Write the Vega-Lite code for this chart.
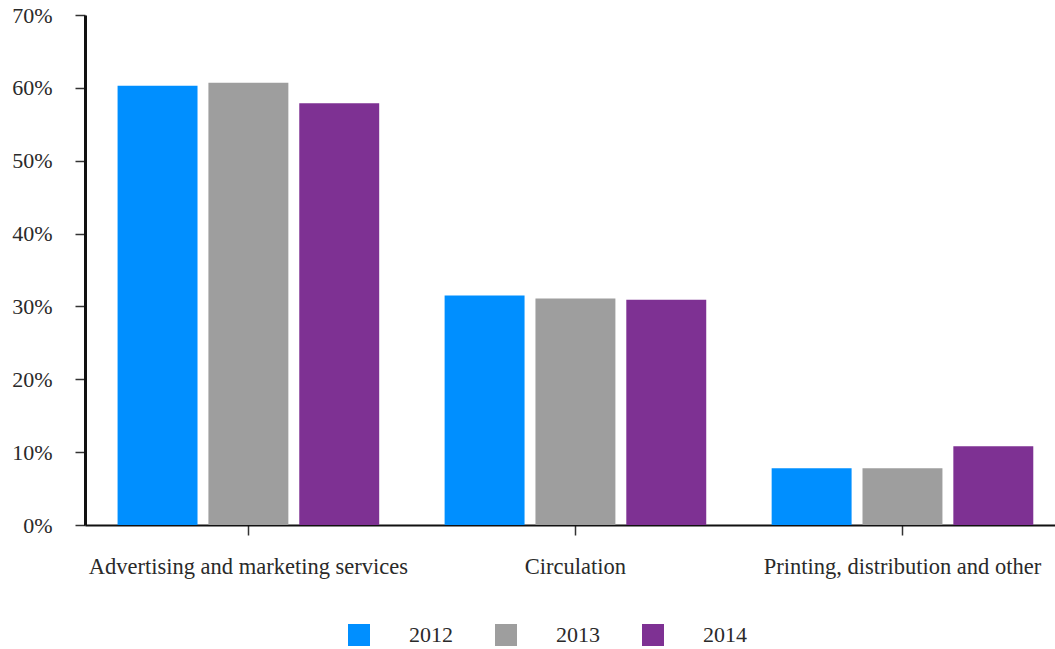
{
  "$schema": "https://vega.github.io/schema/vega-lite/v6.json",
  "width": 970,
  "height": 510,
  "autosize": {"type": "none"},
  "padding": {"left": 85, "top": 15, "right": 0, "bottom": 124},
  "background": "white",
  "data": {
    "values": [
      {"category": "Advertising and marketing services", "year": "2012", "share": 60.3},
      {"category": "Advertising and marketing services", "year": "2013", "share": 60.7},
      {"category": "Advertising and marketing services", "year": "2014", "share": 57.9},
      {"category": "Circulation", "year": "2012", "share": 31.5},
      {"category": "Circulation", "year": "2013", "share": 31.1},
      {"category": "Circulation", "year": "2014", "share": 30.9},
      {"category": "Printing, distribution and other", "year": "2012", "share": 7.8},
      {"category": "Printing, distribution and other", "year": "2013", "share": 7.8},
      {"category": "Printing, distribution and other", "year": "2014", "share": 10.8}
    ]
  },
  "mark": {"type": "bar"},
  "encoding": {
    "x": {
      "field": "category",
      "type": "nominal",
      "sort": null,
      "scale": {"paddingInner": 0.2, "paddingOuter": 0.083, "align": 0.6},
      "axis": {
        "title": null,
        "labelAngle": 0,
        "labelLimit": 0,
        "labelFont": "Liberation Serif",
        "labelFontSize": 22.5,
        "labelColor": "#2a2a2a",
        "labelPadding": 20,
        "tickSize": 10,
        "tickColor": "#333333",
        "tickWidth": 1.5,
        "domainColor": "#111111",
        "domainWidth": 2,
        "grid": false
      }
    },
    "xOffset": {
      "field": "year",
      "type": "nominal",
      "scale": {"paddingInner": 0.12, "paddingOuter": 0}
    },
    "y": {
      "field": "share",
      "type": "quantitative",
      "scale": {"domain": [0, 70], "nice": false},
      "axis": {
        "title": null,
        "values": [0, 10, 20, 30, 40, 50, 60, 70],
        "labelExpr": "datum.value + '%'",
        "labelFont": "Liberation Serif",
        "labelFontSize": 22,
        "labelColor": "#2a2a2a",
        "labelPadding": 23,
        "tickSize": 10,
        "tickColor": "#333333",
        "tickWidth": 1.5,
        "domainColor": "#111111",
        "domainWidth": 3,
        "grid": false
      }
    },
    "color": {
      "field": "year",
      "type": "nominal",
      "scale": {"domain": ["2012", "2013", "2014"], "range": ["#008FFF", "#9E9E9E", "#7E3193"]},
      "legend": {
        "title": null,
        "orient": "none",
        "direction": "horizontal",
        "legendX": 263,
        "legendY": 609,
        "padding": 0,
        "symbolType": "square",
        "symbolSize": 484,
        "symbolStrokeWidth": 0,
        "labelFont": "Liberation Serif",
        "labelFontSize": 22,
        "labelColor": "#2a2a2a",
        "labelOffset": 39,
        "columnPadding": 42
      }
    }
  },
  "config": {"view": {"stroke": null}}
}
